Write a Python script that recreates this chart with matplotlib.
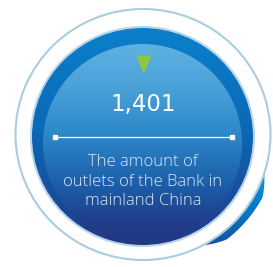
import numpy as np
import matplotlib
matplotlib.use("Agg")
import matplotlib.pyplot as plt
from matplotlib.patches import Ellipse, Polygon
from matplotlib.colors import to_rgb

# ---- content ----
value_label = "1,401"
description_lines = ["The amount of", "outlets of the Bank in", "mainland China"]

W, H = 273, 267
fig = plt.figure(figsize=(W / 100, H / 100), dpi=100)
ax = fig.add_axes([0, 0, 1, 1])
ax.set_xlim(0, W)
ax.set_ylim(H, 0)
ax.axis("off")

yy, xx = np.mgrid[0:H, 0:W] + 0.5


def grad(stops, t):
    t = np.clip(t, 0, 1)
    pos = [s[0] for s in stops]
    cols = np.array([to_rgb(s[1]) for s in stops])
    return np.stack([np.interp(t, pos, cols[:, i]) for i in range(3)], axis=-1)


# outer ring
ocx, ocy, orx, ory = 143, 134.5, 127.5, 125.5
ax.add_patch(Ellipse((ocx, ocy), 2 * orx, 2 * ory, facecolor="white",
                     edgecolor="none", zorder=1))

# blue crescent arc (bottom right)
th = np.radians(np.linspace(18, 62, 80))
tt = np.linspace(0, 1, 80)
thick = 8.0 * np.clip(np.sin(np.pi * tt) * 1.5, 0, 1)
xin = ocx + orx * np.cos(th)
yin = ocy + ory * np.sin(th)
xout = ocx + (orx + thick) * np.cos(th)
yout = ocy + (ory + thick) * np.sin(th)
arc_pts = np.concatenate([np.c_[xin, yin], np.c_[xout, yout][::-1]])
arc_poly = Polygon(arc_pts, closed=True, facecolor="none", edgecolor="none")
ax.add_patch(arc_poly)
arc_img = grad([(0, "#0a90d8"), (0.5, "#0b6fc0"), (1, "#1b4796")], (yy - 180) / 75)
im = ax.imshow(arc_img, extent=(0, W, H, 0), origin="upper", zorder=2,
               interpolation="bilinear")
im.set_clip_path(arc_poly)

ax.add_patch(Ellipse((ocx, ocy), 2 * orx, 2 * ory, facecolor="none",
                     edgecolor="#a9cde0", lw=1.5, zorder=3))

# blue disc
dcx, dcy, drx, dry = 142.5, 136.5, 110.5, 108.5
ax.add_patch(Ellipse((dcx, dcy), 2 * drx + 2, 2 * dry + 2, facecolor="none",
                     edgecolor="#b8d6e8", lw=1.5, zorder=3))
base = grad([(0, "#0a80cc"), (0.45, "#0a6ab7"), (0.75, "#17509f"), (1, "#213885")],
            (yy - 28) / 217)
icx, icy, ir = 142.5, 143.5, 99.5
inner = grad([(0, "#5eb1e2"), (0.2, "#4ca3da"), (0.45, "#2d88c9"), (0.7, "#1c5ea9"),
              (0.9, "#213c88"), (1, "#213885")], (yy - 44) / 200)
d_in = np.sqrt((xx - icx) ** 2 + (yy - icy) ** 2)
a_in = np.clip(ir - d_in + 0.5, 0, 1)[..., None]
disc = base * (1 - a_in) + inner * a_in
disc_patch = Ellipse((dcx, dcy), 2 * drx, 2 * dry, facecolor="none",
                     edgecolor="none")
ax.add_patch(disc_patch)
im2 = ax.imshow(disc, extent=(0, W, H, 0), origin="upper", zorder=4,
                interpolation="bilinear")
im2.set_clip_path(disc_patch)

# green triangle
ax.add_patch(Polygon([(136, 55.5), (151.5, 55.5), (143.7, 74)], closed=True,
                     facecolor="#8dc63f", edgecolor="none", zorder=5))

# value
ax.text(143, 104, value_label, color="white", fontsize=16.5,
        family="DejaVu Sans", ha="center", va="center", zorder=6)

# divider line
ax.plot([54.5, 232], [137, 137], color="white", lw=0.9, zorder=6,
        solid_capstyle="butt")
ax.plot([54.5, 232], [137, 137], ls="none", marker="s", ms=2.6, color="white",
        zorder=6)

# description
baselines = [166, 185.5, 205]
for line, yb in zip(description_lines, baselines):
    ax.text(143, yb, line, color="#dbe8f5", fontsize=12, family="Open Sans",
            fontweight="light", ha="center", va="baseline", zorder=6)

fig.savefig("out.png", dpi=100)
